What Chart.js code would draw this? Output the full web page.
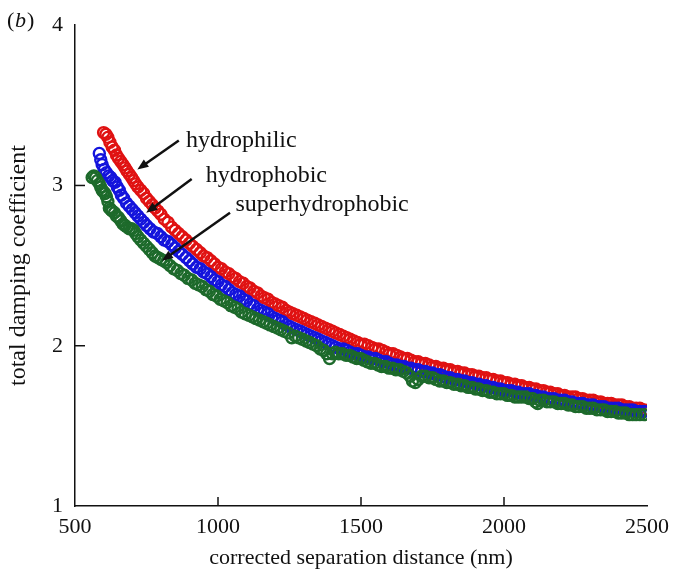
<!DOCTYPE html>
<html>
<head>
<meta charset="utf-8">
<script src="https://cdn.jsdelivr.net/npm/chart.js@4.4.0/dist/chart.umd.min.js"></script>
<style>
  html, body { margin: 0; padding: 0; background: #fff; }
  #wrap { width: 677px; height: 575px; }
</style>
</head>
<body>
<div id="wrap"><canvas id="chart" width="677" height="575"></canvas></div>
<script>
'use strict';

// hydrophilic (red)
let redX = [600, 608, 615, 622, 630, 638, 645, 652, 660, 668, 675, 682, 690, 698, 705, 712, 720, 730, 740, 750,
  760, 770, 780, 790, 800, 812, 825, 838, 850, 862, 875, 888, 900, 912, 925, 938, 950, 962, 975, 988,
  1000, 1012, 1025, 1038, 1050, 1062, 1075, 1088, 1100, 1112, 1125, 1138, 1150, 1162, 1175, 1188, 1200, 1212, 1225, 1238,
  1250, 1262, 1275, 1288, 1300, 1312, 1325, 1338, 1350, 1362, 1375, 1388, 1400, 1412, 1425, 1438, 1450, 1462, 1475, 1488,
  1500, 1512, 1525, 1538, 1550, 1562, 1575, 1588, 1600, 1612, 1625, 1638, 1650, 1662, 1675, 1688, 1700, 1712, 1725, 1738,
  1750, 1762, 1775, 1788, 1800, 1812, 1825, 1838, 1850, 1862, 1875, 1888, 1900, 1912, 1925, 1938, 1950, 1962, 1975, 1988,
  2000, 2012, 2025, 2038, 2050, 2062, 2075, 2088, 2100, 2112, 2125, 2138, 2150, 2162, 2175, 2188, 2200, 2212, 2225, 2238,
  2250, 2262, 2275, 2288, 2300, 2312, 2325, 2338, 2350, 2362, 2375, 2388, 2400, 2412, 2425, 2438, 2450, 2462, 2475, 2490];
let redY = [3.33, 3.32, 3.30, 3.27, 3.24, 3.22, 3.19, 3.17, 3.15, 3.13, 3.11, 3.09, 3.07, 3.05, 3.03, 3.01, 2.99, 2.97, 2.95, 2.92,
  2.90, 2.88, 2.86, 2.84, 2.82, 2.79, 2.77, 2.74, 2.72, 2.70, 2.68, 2.66, 2.64, 2.62, 2.60, 2.58, 2.56, 2.55, 2.53, 2.51,
  2.49, 2.48, 2.46, 2.45, 2.43, 2.42, 2.40, 2.39, 2.37, 2.36, 2.34, 2.33, 2.31, 2.30, 2.29, 2.27, 2.26, 2.25, 2.24, 2.22,
  2.21, 2.20, 2.19, 2.18, 2.17, 2.16, 2.15, 2.14, 2.13, 2.12, 2.11, 2.10, 2.09, 2.08, 2.07, 2.06, 2.05, 2.04, 2.03, 2.02,
  2.01, 2.01, 2.00, 1.99, 1.98, 1.98, 1.97, 1.96, 1.95, 1.95, 1.94, 1.93, 1.92, 1.92, 1.91, 1.90, 1.90, 1.89, 1.89, 1.88,
  1.87, 1.87, 1.86, 1.86, 1.85, 1.85, 1.84, 1.84, 1.83, 1.83, 1.82, 1.82, 1.81, 1.81, 1.80, 1.80, 1.79, 1.79, 1.78, 1.78,
  1.77, 1.77, 1.76, 1.76, 1.75, 1.75, 1.74, 1.74, 1.73, 1.73, 1.72, 1.72, 1.71, 1.71, 1.70, 1.70, 1.69, 1.69, 1.68, 1.68,
  1.68, 1.67, 1.67, 1.66, 1.66, 1.66, 1.65, 1.65, 1.64, 1.64, 1.64, 1.63, 1.63, 1.63, 1.62, 1.62, 1.61, 1.61, 1.61, 1.60];

// hydrophobic (blue)
let blueX = [585, 590, 595, 602, 610, 618, 625, 632, 640, 648, 655, 662, 670, 680, 690, 700, 710, 720, 730, 740,
  750, 762, 775, 788, 800, 812, 825, 838, 850, 862, 875, 888, 900, 912, 925, 938, 950, 962, 975, 988,
  1000, 1012, 1025, 1038, 1050, 1062, 1075, 1088, 1100, 1112, 1125, 1138, 1150, 1162, 1175, 1188, 1200, 1212, 1225, 1238,
  1250, 1262, 1275, 1288, 1300, 1312, 1325, 1338, 1350, 1362, 1375, 1388, 1400, 1412, 1425, 1438, 1450, 1462, 1475, 1488,
  1500, 1512, 1525, 1538, 1550, 1562, 1575, 1588, 1600, 1612, 1625, 1638, 1650, 1662, 1675, 1688, 1700, 1712, 1725, 1738,
  1750, 1762, 1775, 1788, 1800, 1812, 1825, 1838, 1850, 1862, 1875, 1888, 1900, 1912, 1925, 1938, 1950, 1962, 1975, 1988,
  2000, 2012, 2025, 2038, 2050, 2062, 2075, 2088, 2100, 2112, 2125, 2138, 2150, 2162, 2175, 2188, 2200, 2212, 2225, 2238,
  2250, 2262, 2275, 2288, 2300, 2312, 2325, 2338, 2350, 2362, 2375, 2388, 2400, 2412, 2425, 2438, 2450, 2462, 2475, 2490];
let blueY = [3.20, 3.16, 3.13, 3.10, 3.08, 3.06, 3.05, 3.03, 3.02, 2.99, 2.97, 2.94, 2.92, 2.89, 2.87, 2.85, 2.83, 2.81, 2.79, 2.77,
  2.75, 2.73, 2.71, 2.70, 2.68, 2.66, 2.65, 2.63, 2.61, 2.59, 2.57, 2.55, 2.53, 2.51, 2.49, 2.48, 2.46, 2.45, 2.43, 2.41,
  2.40, 2.38, 2.37, 2.35, 2.33, 2.32, 2.31, 2.29, 2.28, 2.26, 2.25, 2.23, 2.22, 2.21, 2.20, 2.18, 2.17, 2.16, 2.15, 2.13,
  2.12, 2.11, 2.10, 2.09, 2.08, 2.07, 2.06, 2.05, 2.04, 2.03, 2.02, 2.01, 2.00, 1.99, 1.98, 1.98, 1.97, 1.96, 1.95, 1.95,
  1.94, 1.93, 1.93, 1.92, 1.92, 1.91, 1.90, 1.90, 1.89, 1.88, 1.88, 1.87, 1.87, 1.86, 1.86, 1.85, 1.85, 1.84, 1.84, 1.83,
  1.83, 1.82, 1.82, 1.81, 1.80, 1.80, 1.79, 1.79, 1.78, 1.78, 1.77, 1.77, 1.76, 1.76, 1.75, 1.75, 1.74, 1.74, 1.73, 1.73,
  1.72, 1.72, 1.72, 1.71, 1.71, 1.70, 1.70, 1.70, 1.69, 1.69, 1.68, 1.68, 1.67, 1.67, 1.67, 1.66, 1.66, 1.66, 1.65, 1.65,
  1.64, 1.64, 1.64, 1.63, 1.63, 1.63, 1.62, 1.62, 1.62, 1.61, 1.61, 1.61, 1.61, 1.60, 1.60, 1.60, 1.60, 1.59, 1.59, 1.59];

// superhydrophobic (green)
let greenX = [560, 566, 572, 578, 585, 590, 595, 600, 605, 610, 615, 620, 625, 630, 638, 645, 652, 660, 668, 675,
  682, 690, 698, 705, 712, 720, 730, 740, 750, 760, 770, 780, 790, 800, 810, 820, 832, 845, 858, 870,
  882, 895, 908, 920, 932, 945, 958, 970, 982, 995, 1008, 1020, 1032, 1045, 1058, 1070, 1082, 1095, 1108, 1120,
  1132, 1145, 1158, 1170, 1182, 1195, 1208, 1220, 1232, 1245, 1258, 1270, 1282, 1295, 1308, 1320, 1332, 1345, 1358, 1370,
  1380, 1390, 1400, 1410, 1422, 1435, 1448, 1460, 1472, 1485, 1498, 1510, 1522, 1535, 1548, 1560, 1572, 1585, 1598, 1610,
  1622, 1635, 1648, 1660, 1672, 1680, 1690, 1700, 1712, 1725, 1738, 1750, 1762, 1775, 1788, 1800, 1812, 1825, 1838, 1850,
  1862, 1875, 1888, 1900, 1912, 1925, 1938, 1950, 1962, 1975, 1988, 2000, 2012, 2025, 2038, 2050, 2062, 2075, 2088, 2100,
  2110, 2118, 2125, 2138, 2150, 2162, 2175, 2188, 2200, 2212, 2225, 2238, 2250, 2262, 2275, 2288, 2300, 2312, 2325, 2338,
  2350, 2362, 2375, 2388, 2400, 2412, 2425, 2438, 2450, 2462, 2475, 2490];
let greenY = [3.05, 3.06, 3.05, 3.03, 3.01, 2.99, 2.97, 2.96, 2.95, 2.93, 2.90, 2.86, 2.85, 2.84, 2.83, 2.81, 2.80, 2.78, 2.76, 2.75,
  2.74, 2.73, 2.73, 2.72, 2.70, 2.68, 2.66, 2.64, 2.62, 2.60, 2.58, 2.56, 2.55, 2.54, 2.53, 2.52, 2.50, 2.48, 2.47, 2.45,
  2.44, 2.42, 2.41, 2.39, 2.38, 2.37, 2.35, 2.34, 2.32, 2.31, 2.29, 2.28, 2.27, 2.25, 2.24, 2.23, 2.21, 2.20, 2.19, 2.18,
  2.17, 2.16, 2.15, 2.14, 2.13, 2.12, 2.11, 2.10, 2.09, 2.08, 2.05, 2.06, 2.05, 2.04, 2.03, 2.02, 2.01, 2.00, 1.98, 1.97,
  1.95, 1.92, 1.95, 1.96, 1.95, 1.95, 1.94, 1.94, 1.93, 1.92, 1.92, 1.91, 1.90, 1.89, 1.89, 1.88, 1.87, 1.87, 1.86, 1.86,
  1.85, 1.85, 1.84, 1.83, 1.81, 1.78, 1.77, 1.79, 1.81, 1.81, 1.80, 1.80, 1.79, 1.78, 1.78, 1.77, 1.77, 1.76, 1.76, 1.75,
  1.75, 1.74, 1.74, 1.73, 1.73, 1.72, 1.72, 1.71, 1.71, 1.70, 1.70, 1.70, 1.69, 1.69, 1.68, 1.68, 1.68, 1.68, 1.67, 1.67,
  1.65, 1.64, 1.66, 1.66, 1.65, 1.65, 1.65, 1.64, 1.64, 1.64, 1.63, 1.63, 1.62, 1.62, 1.62, 1.61, 1.61, 1.61, 1.60, 1.60,
  1.60, 1.59, 1.59, 1.59, 1.58, 1.58, 1.58, 1.57, 1.57, 1.57, 1.57, 1.57];

let xTicks = [500, 1000, 1500, 2000, 2500];
let yTicks = [1, 2, 3, 4];

// labels with arrows, in data units: text anchor, arrow tail, arrow tip
let notes = [
  { text: 'hydrophilic', tx: 888, ty: 3.28, x0: 863, y0: 3.28, x1: 718, y1: 3.10 },
  { text: 'hydrophobic', tx: 957, ty: 3.06, x0: 908, y0: 3.04, x1: 749, y1: 2.83 },
  { text: 'superhydrophobic', tx: 1061, ty: 2.88, x0: 1042, y0: 2.83, x1: 804, y1: 2.53 }
];

function pairs(xs, ys) {
  let out = [];
  for (let i = 0; i < xs.length; i++) {
    out.push({ x: xs[i], y: ys[i] });
  }
  return out;
}

const serif = '"Liberation Serif", "Times New Roman", serif';

function series(label, xs, ys, color, order) {
  return {
    label: label,
    data: pairs(xs, ys),
    borderColor: color,
    backgroundColor: 'rgba(0,0,0,0)',
    pointRadius: 5.5,
    pointBorderWidth: 2.4,
    showLine: false,
    order: order
  };
}

// inward tick marks, arrows and the panel letter
const extras = {
  id: 'extras',
  afterDraw(chart) {
    let ctx = chart.ctx;
    let xs = chart.scales.x;
    let ys = chart.scales.y;
    let area = chart.chartArea;
    ctx.save();
    ctx.strokeStyle = '#111';
    ctx.lineWidth = 1.5;
    xTicks.slice(1, -1).forEach(function (v) {
      let px = xs.getPixelForValue(v);
      ctx.beginPath();
      ctx.moveTo(px, area.bottom);
      ctx.lineTo(px, area.bottom - 9);
      ctx.stroke();
    });
    yTicks.slice(1, -1).forEach(function (v) {
      let py = ys.getPixelForValue(v);
      ctx.beginPath();
      ctx.moveTo(area.left, py);
      ctx.lineTo(area.left + 10, py);
      ctx.stroke();
    });

    ctx.fillStyle = '#111';
    ctx.font = '24px ' + serif;
    ctx.textBaseline = 'middle';
    ctx.textAlign = 'left';
    notes.forEach(function (n) {
      let ax = xs.getPixelForValue(n.x0), ay = ys.getPixelForValue(n.y0);
      let bx = xs.getPixelForValue(n.x1), by = ys.getPixelForValue(n.y1);
      let ang = Math.atan2(by - ay, bx - ax);
      let head = 11;
      ctx.lineWidth = 2.5;
      ctx.beginPath();
      ctx.moveTo(ax, ay);
      ctx.lineTo(bx - Math.cos(ang) * head * 0.8, by - Math.sin(ang) * head * 0.8);
      ctx.stroke();
      ctx.beginPath();
      ctx.moveTo(bx, by);
      ctx.lineTo(bx - head * Math.cos(ang) + 4.5 * Math.sin(ang), by - head * Math.sin(ang) - 4.5 * Math.cos(ang));
      ctx.lineTo(bx - head * Math.cos(ang) - 4.5 * Math.sin(ang), by - head * Math.sin(ang) + 4.5 * Math.cos(ang));
      ctx.closePath();
      ctx.fill();
      ctx.fillText(n.text, xs.getPixelForValue(n.tx), ys.getPixelForValue(n.ty));
    });

    ctx.font = '22px ' + serif;
    ctx.fillText('(', 7, 21);
    ctx.font = 'italic 22px ' + serif;
    ctx.fillText('b', 15, 21);
    ctx.font = '22px ' + serif;
    ctx.fillText(')', 27, 21);
    ctx.restore();
  }
};

let chartConfig = {
  type: 'scatter',
  data: {
    datasets: [
      series('hydrophilic', redX, redY, '#e01212', 3),
      series('hydrophobic', blueX, blueY, '#1414dc', 2),
      series('superhydrophobic', greenX, greenY, '#1d6a2b', 1)
    ]
  },
  options: {
    responsive: false,
    animation: false,
    layout: { padding: { top: 20, right: 24, left: 0, bottom: 0 } },
    plugins: {
      legend: { display: false },
      tooltip: { enabled: false }
    },
    scales: {
      x: {
        type: 'linear',
        min: 500,
        max: 2500,
        afterBuildTicks: function (scale) { scale.ticks = xTicks.map(function (v) { return { value: v }; }); },
        afterFit: function (scale) { scale.height = 69; },
        border: { display: true, color: '#111', width: 1.5 },
        grid: { display: false, drawTicks: false },
        ticks: {
          color: '#111', padding: 8, maxRotation: 0, font: { family: serif, size: 22 },
          callback: function (v) { return String(v); }
        },
        title: { display: true, text: 'corrected separation distance (nm)', color: '#111', font: { family: serif, size: 22 }, padding: { top: 0, bottom: 4 } }
      },
      y: {
        type: 'linear',
        min: 1,
        max: 4,
        afterBuildTicks: function (scale) { scale.ticks = yTicks.map(function (v) { return { value: v }; }); },
        afterFit: function (scale) { scale.width = 75; },
        border: { display: true, color: '#111', width: 1.5 },
        grid: { display: false, drawTicks: false },
        ticks: { color: '#111', padding: 12, font: { family: serif, size: 22 }, callback: function (v) { return String(v); } },
        title: { display: true, text: 'total damping coefficient', color: '#111', font: { family: serif, size: 24 }, padding: { top: 4, bottom: 4 } }
      }
    }
  },
  plugins: [extras]
};

new Chart(document.getElementById('chart'), chartConfig);
</script>
</body>
</html>
